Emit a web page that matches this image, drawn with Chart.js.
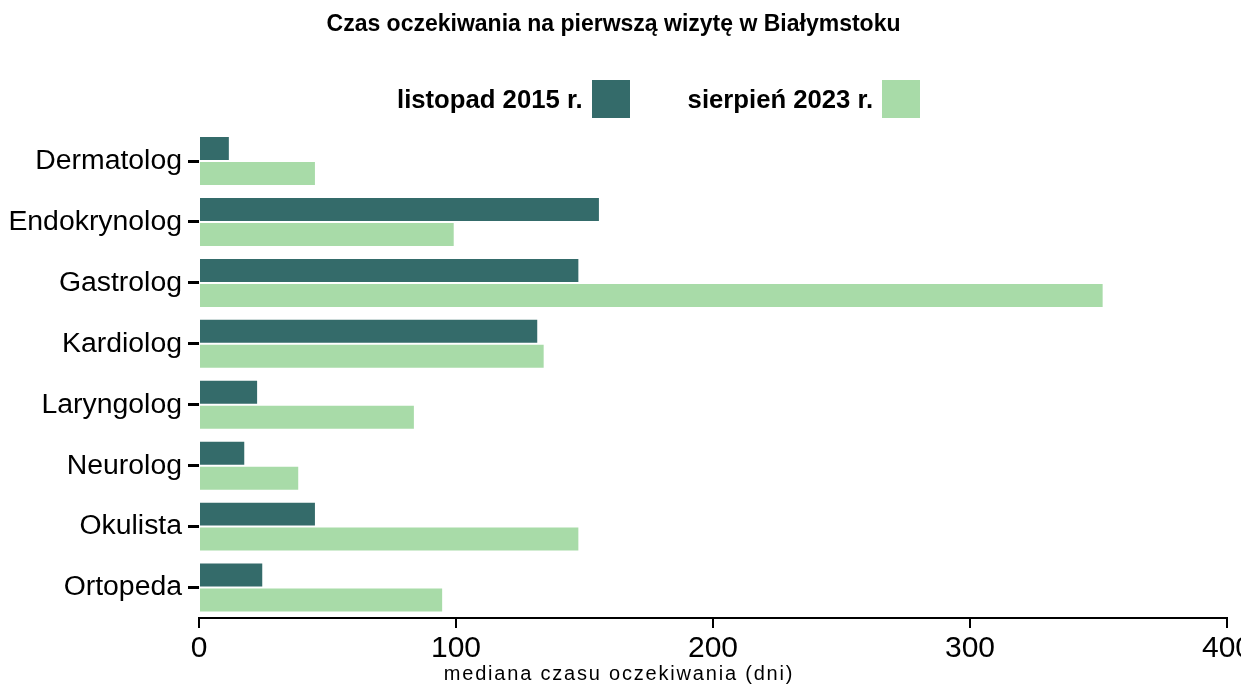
<!DOCTYPE html>
<html lang="pl">
<head>
<meta charset="utf-8">
<script src="https://cdn.jsdelivr.net/npm/chart.js@4"></script>
<style>
  html, body { margin: 0; padding: 0; background: #fff; overflow: hidden; }
  #wrap { position: relative; width: 1241px; height: 686px; }
  #legend {
    position: absolute; left: 397px; top: 80px; display: flex; align-items: center;
    font: bold 25.7px "Liberation Sans", Arial, sans-serif; color: #000;
  }
  #legend .item { display: flex; align-items: center; margin-right: 58px; }
  #legend .box { width: 38px; height: 38px; margin-left: 9px; }
</style>
</head>
<body>
<div id="wrap">
  <canvas id="chart" width="1241" height="686"></canvas>
  <div id="legend"></div>
</div>
<script>
const categories = ["Dermatolog", "Endokrynolog", "Gastrolog", "Kardiolog", "Laryngolog", "Neurolog", "Okulista", "Ortopeda"];
const seriesNames = ["listopad 2015 r.", "sierpień 2023 r."];
const wait2015 = [12, 156, 148, 132, 23, 18, 45.5, 25];
const wait2023 = [45.5, 99.5, 352, 134.5, 84, 39, 148, 95];
const seriesColors = ["#346b6a", "#a8dba8"];
const xTicks = [0, 100, 200, 300, 400];
const chartTitle = "Czas oczekiwania na pierwszą wizytę w Białymstoku";
const xTitle = "mediana czasu oczekiwania (dni)";

// legenda w HTML (kwadrat po prawej stronie tekstu)
const legend = document.getElementById("legend");
seriesNames.forEach((name, i) => {
  const item = document.createElement("div");
  item.className = "item";
  const txt = document.createElement("span");
  txt.textContent = name;
  const box = document.createElement("div");
  box.className = "box";
  box.style.background = seriesColors[i];
  item.appendChild(txt);
  item.appendChild(box);
  legend.appendChild(item);
});

// podpis osi X rysowany na środku płótna
const xTitlePlugin = {
  id: "xTitle",
  afterDraw(chart) {
    const c = chart.ctx;
    c.save();
    c.font = '20px "Liberation Sans", Arial, sans-serif';
    c.fillStyle = "#000";
    c.textAlign = "center";
    c.textBaseline = "middle";
    if ("letterSpacing" in c) c.letterSpacing = "1.8px";
    c.fillText(xTitle, 619, 674);
    c.restore();
  }
};

const ctx = document.getElementById("chart").getContext("2d");
new Chart(ctx, {
  type: "bar",
  data: {
    labels: categories,
    datasets: [
      {
        label: seriesNames[0],
        data: wait2015,
        backgroundColor: seriesColors[0],
        borderColor: "rgba(255,255,255,0.9)",
        borderWidth: 1,
        categoryPercentage: 0.82,
        barPercentage: 1
      },
      {
        label: seriesNames[1],
        data: wait2023,
        backgroundColor: seriesColors[1],
        borderColor: "rgba(255,255,255,0.9)",
        borderWidth: 1,
        categoryPercentage: 0.82,
        barPercentage: 1
      }
    ]
  },
  options: {
    indexAxis: "y",
    responsive: false,
    animation: false,
    layout: { padding: { left: 0, right: 14, top: 0, bottom: 0 } },
    scales: {
      x: {
        min: 0,
        max: 400,
        afterBuildTicks: (s) => { s.ticks = xTicks.map(v => ({ value: v })); },
        afterFit: (s) => { s.height = 68; s.paddingLeft = 0; s.paddingRight = 0; },
        ticks: {
          color: "#000",
          padding: 3,
          maxRotation: 0,
          font: { family: '"Liberation Sans Narrow", "Liberation Sans", Arial, sans-serif', size: 30 }
        },
        grid: { drawOnChartArea: false, color: "#000", lineWidth: 2, tickLength: 10 },
        border: { display: true, color: "#000", width: 2 }
      },
      y: {
        afterFit: (s) => { s.width = 199; s.paddingTop = 0; s.paddingBottom = 0; },
        ticks: {
          color: "#000",
          padding: 6,
          font: { family: '"Liberation Sans", Arial, sans-serif', size: 28.4 }
        },
        grid: { offset: false, drawOnChartArea: false, color: "#000", lineWidth: 3, tickLength: 11 },
        border: { display: false }
      }
    },
    plugins: {
      legend: { display: false },
      tooltip: { enabled: false },
      title: {
        display: true,
        text: chartTitle,
        color: "#000",
        font: { family: '"Liberation Sans", Arial, sans-serif', size: 23, weight: "bold" },
        padding: { top: 11, bottom: 92 }
      }
    }
  },
  plugins: [xTitlePlugin]
});
</script>
</body>
</html>
